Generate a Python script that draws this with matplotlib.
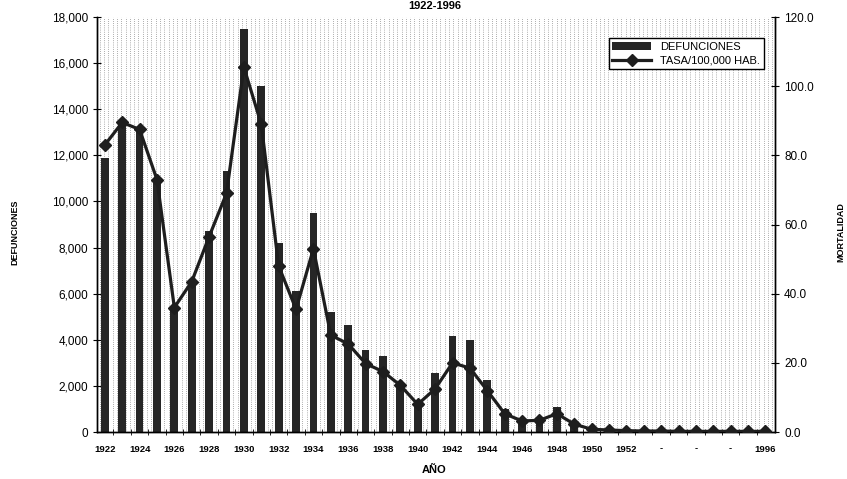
import matplotlib
matplotlib.use('Agg')
import matplotlib.pyplot as plt
import numpy as np
from matplotlib.ticker import FuncFormatter

plt.rcParams['font.family'] = ['Liberation Sans', 'DejaVu Sans']

# Datos
anios = [str(a) for a in range(1922, 1954)] + ['-', '-', '-', '-', '-', '-', '1996']
defunciones = [11900, 13300, 13000, 11000, 5300, 6600, 8700, 11300, 17500, 15000,
               8200, 6100, 9500, 5200, 4650, 3550, 3300, 2150, 1300, 2550,
               4150, 4000, 2250, 1000, 450, 500, 1100, 350, 80, 60,
               40, 30, 20, 15, 10, 10, 10, 10, 10]
tasa = [83.0, 89.5, 87.5, 73.0, 36.0, 43.5, 56.5, 69.0, 105.5, 89.0,
        48.0, 35.5, 53.0, 28.0, 25.5, 19.8, 17.5, 13.5, 8.0, 12.5,
        20.0, 18.5, 12.0, 5.3, 3.2, 3.4, 5.3, 2.3, 0.8, 0.6,
        0.4, 0.3, 0.3, 0.2, 0.2, 0.2, 0.2, 0.2, 0.2]

x = list(range(len(anios)))

fig = plt.figure(figsize=(8.47, 4.79), dpi=100)
ax = fig.add_axes([0.1145, 0.098, 0.8005, 0.8665])

# fondo punteado (columnas de puntos)
for xc in np.linspace(0.004, 0.996, 157):
    ax.axvline(xc * (len(anios)) - 0.45, color='#8c8c8c', lw=0.7,
               linestyle=(0, (0.7, 1.5)), zorder=0)

barras = ax.bar(x, defunciones, width=0.45, color='#262626', label='DEFUNCIONES', zorder=2)
ax.set_ylim(0, 18000)
ax.set_yticks(range(0, 18001, 2000))
ax.yaxis.set_major_formatter(FuncFormatter(lambda v, p: f'{int(v):,}'))
ax.set_xlim(-0.45, len(anios) - 0.45)
ax.set_xticks(x[::2])
ax.set_xticklabels(anios[::2], fontsize=6.8, fontweight='bold')
ax.set_xticks([i + 0.5 for i in x[:-1]], minor=True)
ax.tick_params(axis='x', which='major', length=0, pad=9)
ax.tick_params(axis='x', which='minor', length=4, direction='inout')
ax.tick_params(axis='y', labelsize=8.5, direction='inout', length=6)

ax2 = ax.twinx()
linea, = ax2.plot(x, tasa, color='#1e1e1e', lw=2.3, marker='D', markersize=6,
                  label='TASA/100,000 HAB.', zorder=3)
ax2.set_ylim(0, 120)
ax2.set_yticks(range(0, 121, 20))
ax2.yaxis.set_major_formatter(FuncFormatter(lambda v, p: f'{v:.1f}'))
ax2.tick_params(axis='y', labelsize=8.5, direction='inout', length=6)

for a in (ax, ax2):
    a.spines['top'].set_visible(False)
    for s in a.spines.values():
        s.set_linewidth(1.0)

leg = ax2.legend([barras, linea], ['DEFUNCIONES', 'TASA/100,000 HAB.'],
                 loc='upper right', bbox_to_anchor=(0.992, 0.962), fontsize=8,
                 frameon=True, fancybox=False, edgecolor='black', framealpha=1,
                 handlelength=3.5, borderpad=0.35, labelspacing=0.3)
leg.get_frame().set_linewidth(1.0)

fig.text(0.018, 0.515, 'DEFUNCIONES', rotation=90, ha='center', va='center',
         fontsize=6.5, fontweight='bold')
fig.text(0.993, 0.515, 'MORTALIDAD', rotation=90, ha='center', va='center',
         fontsize=6.5, fontweight='bold')
fig.text(0.513, 0.018, 'AÑO', ha='center', va='center', fontsize=8, fontweight='bold')
fig.text(0.513, 0.998, '1922-1996', ha='center', va='top', fontsize=8, fontweight='bold')

fig.savefig('out.png', dpi=100)
